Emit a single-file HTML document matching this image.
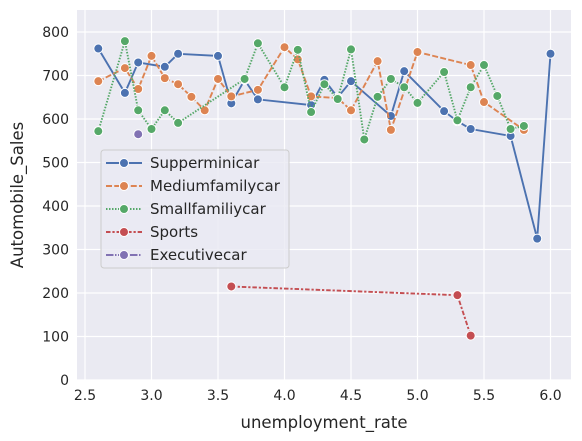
<!DOCTYPE html>
<html><head><meta charset="utf-8"><style>
html,body{margin:0;padding:0;background:#fff;}
svg{display:block;font-family:"DejaVu Sans","Liberation Sans",sans-serif;}
</style></head><body>
<svg id="chart" width="582" height="441" viewBox="0 0 582 441"></svg>
<script>
const seriesNames = ["Supperminicar","Mediumfamilycar","Smallfamiliycar","Sports","Executivecar"];
const superX = [2.6,2.8,2.9,3.1,3.2,3.5,3.6,3.7,3.8,4.2,4.3,4.4,4.5,4.8,4.9,5.2,5.3,5.4,5.7,5.9,6.0];
const superY = [762,660,730,720,750,745,636,690,645,632,690,650,687,607,710,618,595,577,561,325,750];
const mediumX = [2.6,2.8,2.9,3.0,3.1,3.2,3.3,3.4,3.5,3.6,3.8,4.0,4.1,4.2,4.4,4.5,4.7,4.8,5.0,5.4,5.5,5.8];
const mediumY = [687,717,669,745,694,680,651,620,692,652,667,765,737,652,648,620,733,575,754,724,639,575];
const smallX = [2.6,2.8,2.9,3.0,3.1,3.2,3.7,3.8,4.0,4.1,4.2,4.3,4.4,4.5,4.6,4.7,4.8,4.9,5.0,5.2,5.3,5.4,5.5,5.6,5.7,5.8];
const smallY = [572,779,620,577,620,591,692,774,673,759,616,680,646,760,553,651,692,673,637,708,597,673,724,653,577,584];
const sportsX = [3.6,5.3,5.4];
const sportsY = [215,195,102];
const execX = [2.9];
const execY = [565];
const xTicks = [2.5,3.0,3.5,4.0,4.5,5.0,5.5,6.0];
const xTickLabels = ["2.5","3.0","3.5","4.0","4.5","5.0","5.5","6.0"];
const yTicks = [0,100,200,300,400,500,600,700,800];
const yTickLabels = ["0","100","200","300","400","500","600","700","800"];

const svg = document.getElementById('chart');
const NS = 'http://www.w3.org/2000/svg';
const L=77,R=571,T=10,B=380;
function xs(v){return 85+(v-2.5)*133;}
function ys(v){return 380-v*0.435;}
function mk(tag,attrs,parent){const e=document.createElementNS(NS,tag);for(const k in attrs)e.setAttribute(k,attrs[k]);(parent||svg).appendChild(e);return e;}

const bg=mk('rect',{x:L,y:T,width:R-L,height:B-T,fill:'#eaeaf2'});



xTicks.forEach((t,i)=>{
  const g=mk('line',{x1:xs(t),x2:xs(t),y1:T,y2:B,stroke:'#fff','stroke-width':1.2});
  
  
  const tx=mk('text',{x:xs(t),y:B+20,'text-anchor':'middle','font-size':14,fill:'#262626'});
  tx.textContent=xTickLabels[i];
  
  
});
yTicks.forEach((t,i)=>{
  const g=mk('line',{x1:L,x2:R,y1:ys(t),y2:ys(t),stroke:'#fff','stroke-width':1.2});
  
  
  const tx=mk('text',{x:L-8,y:ys(t)+5,'text-anchor':'end','font-size':14,fill:'#262626'});
  tx.textContent=yTickLabels[i];
  
  
});

const xt=mk('text',{x:(L+R)/2,y:428,'text-anchor':'middle','font-size':16.5,fill:'#262626'});
xt.textContent='unemployment_rate';


const yt=mk('text',{x:23,y:(T+B)/2,'text-anchor':'middle','font-size':16.5,fill:'#262626',transform:'rotate(-90 23 '+((T+B)/2)+')'});
yt.textContent='Automobile_Sales';



const colors=['#4c72b0','#dd8452','#55a868','#c44e52','#8172b3'];
const dashes=['none','6,2.25','1.5,1.5','4.5,1.9,2.25,1.9','7.5,1.5,1.5,1.5'];
const allX=[superX,mediumX,smallX,sportsX,execX];
const allY=[superY,mediumY,smallY,sportsY,execY];
const keys=['supperminicar','mediumfamilycar','smallfamiliycar','sports','executivecar'];

allX.forEach((xa,s)=>{
  const ya=allY[s];
  const g=mk('g',{});
  
  
  if(xa.length>1){
    const d=xa.map((x,i)=>(i?'L':'M')+xs(x).toFixed(1)+','+ys(ya[i]).toFixed(1)).join(' ');
    const p=mk('path',{d:d,fill:'none',stroke:colors[s],'stroke-width':1.9,'stroke-dasharray':dashes[s]},g);
    
    
  }
  xa.forEach((x,i)=>{
    const c=mk('circle',{cx:xs(x),cy:ys(ya[i]),r:4.5,fill:colors[s],stroke:'#fff','stroke-width':1},g);
    
    
  });
});

const lg=mk('g',{});


mk('rect',{x:101,y:150,width:188,height:118,rx:3,fill:'#eaeaf2','fill-opacity':0.8,stroke:'#cccccc','stroke-width':1},lg);
seriesNames.forEach((n,i)=>{
  const y=163+i*23;
  const e=mk('g',{},lg);
  
  
  mk('line',{x1:106,x2:142,y1:y,y2:y,stroke:colors[i],'stroke-width':1.9,'stroke-dasharray':dashes[i]},e);
  mk('circle',{cx:124,cy:y,r:4.5,fill:colors[i],stroke:'#fff','stroke-width':1},e);
  const t=mk('text',{x:150,y:y+5,'font-size':15,fill:'#262626'},e);
  t.textContent=n;
});
</script>
</body></html>
